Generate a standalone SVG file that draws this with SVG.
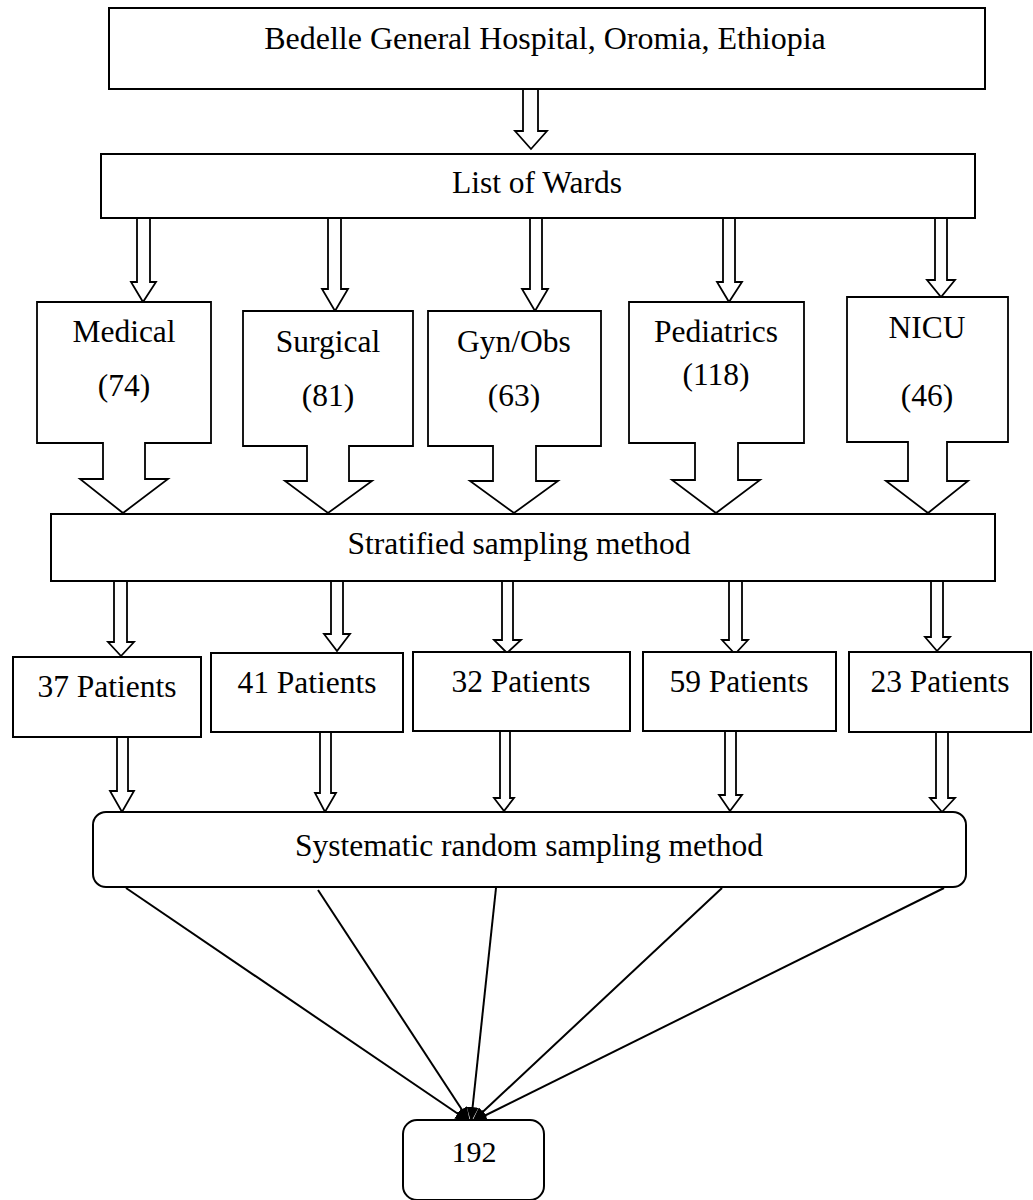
<svg xmlns="http://www.w3.org/2000/svg" width="1033" height="1200" viewBox="0 0 1033 1200">
<style>
  .box { fill: #fff; stroke: #000; stroke-width: 2; }
  .blk { fill: #fff; stroke: #000; stroke-width: 1.8; stroke-linejoin: miter; }
  .t { font-family: "Liberation Serif", "Times New Roman", serif; font-size: 31.5px; fill: #000; text-anchor: middle; }
  .ln { stroke: #000; stroke-width: 2; fill: none; marker-end: url(#ah); }
</style>
<defs>
  <marker id="ah" markerUnits="userSpaceOnUse" markerWidth="16" markerHeight="12" refX="15" refY="6" orient="auto">
    <path d="M0,0 L15,6 L0,12 Z" fill="#000"/>
  </marker>
</defs>
<rect width="1033" height="1200" fill="#fff"/>

<g id="connectors">
  <!-- hospital to list -->
  <polygon class="blk" points="523,89 538,89 538,131 547,131 531,149 515,131 523,131"/>
  <!-- list to wards -->
  <polygon class="blk" points="137,218 150,218 150,282 156,282 143,302 131,282 137,282"/>
  <polygon class="blk" points="328,218 341,218 341,289 348,289 335,311 322,289 328,289"/>
  <polygon class="blk" points="530,218 542,218 542,289 548,289 535,311 522,289 530,289"/>
  <polygon class="blk" points="723,218 735,218 735,282 742,282 729,302 717,282 723,282"/>
  <polygon class="blk" points="935,218 947,218 947,280 955,280 941,297 927,280 935,280"/>
  <!-- stratified to patients -->
  <polygon class="blk" points="114,581 127,581 127,642 134,642 121,656 108,642 114,642"/>
  <polygon class="blk" points="331,581 343,581 343,634 350,634 337,651 324,634 331,634"/>
  <polygon class="blk" points="502,581 513,581 513,640 521,640 507,653 494,640 502,640"/>
  <polygon class="blk" points="729,581 742,581 742,640 748,640 735,654 722,640 729,640"/>
  <polygon class="blk" points="931,581 943,581 943,637 950,637 937,651 925,637 931,637"/>
  <!-- patients to systematic -->
  <polygon class="blk" points="117,737 128,737 128,791 134,791 122,812 110,791 117,791"/>
  <polygon class="blk" points="320,732 331,732 331,793 336,793 325,812 315,793 320,793"/>
  <polygon class="blk" points="500,731 510,731 510,798 514,798 504,811 494,798 500,798"/>
  <polygon class="blk" points="725,731 736,731 736,795 742,795 730,811 719,795 725,795"/>
  <polygon class="blk" points="936,732 948,732 948,798 955,798 942,812 930,798 936,798"/>
  <!-- systematic to 192 -->
  <line class="ln" x1="126" y1="888" x2="470" y2="1122"/>
  <line class="ln" x1="318" y1="890" x2="470" y2="1122"/>
  <line class="ln" x1="496" y1="888" x2="471" y2="1122"/>
  <line class="ln" x1="722" y1="888" x2="472" y2="1122"/>
  <line class="ln" x1="944" y1="888" x2="472" y2="1122"/>
</g>

<g id="hospital">
  <rect class="box" x="109" y="8" width="876" height="81"/>
  <text class="t" x="545" y="49" style="font-size:32px">Bedelle General Hospital, Oromia, Ethiopia</text>
</g>

<g id="wards-list">
  <rect class="box" x="101" y="154" width="874" height="64"/>
  <text class="t" x="537" y="193">List of Wards</text>
</g>

<g id="medical">
  <polygon class="blk" points="37,302 211,302 211,443 145,443 145,479 168,479 123,513 80,479 103,479 103,443 37,443"/>
  <text class="t" x="124" y="342">Medical</text>
  <text class="t" x="124" y="396">(74)</text>
</g>

<g id="surgical">
  <polygon class="blk" points="243,311 413,311 413,446 349,446 349,481 372,481 328,513 285,481 307,481 307,446 243,446"/>
  <text class="t" x="328" y="352">Surgical</text>
  <text class="t" x="328" y="406">(81)</text>
</g>

<g id="gynobs">
  <polygon class="blk" points="428,311 601,311 601,446 536,446 536,481 558,481 514,513 470,481 493,481 493,446 428,446"/>
  <text class="t" x="514" y="352">Gyn/Obs</text>
  <text class="t" x="514" y="406">(63)</text>
</g>

<g id="pediatrics">
  <polygon class="blk" points="629,302 804,302 804,443 738,443 738,480 760,480 716,513 672,480 695,480 695,443 629,443"/>
  <text class="t" x="716" y="342">Pediatrics</text>
  <text class="t" x="716" y="385">(118)</text>
</g>

<g id="nicu">
  <polygon class="blk" points="847,297 1008,297 1008,442 947,442 947,481 968,481 928,513 886,481 908,481 908,442 847,442"/>
  <text class="t" x="927" y="338">NICU</text>
  <text class="t" x="927" y="406">(46)</text>
</g>

<g id="stratified">
  <rect class="box" x="51" y="514" width="944" height="67"/>
  <text class="t" x="519" y="554">Stratified sampling method</text>
</g>

<g id="p37">
  <rect class="box" x="13" y="657" width="188" height="80"/>
  <text class="t" x="107" y="697">37 Patients</text>
</g>
<g id="p41">
  <rect class="box" x="211" y="653" width="192" height="79"/>
  <text class="t" x="307" y="693">41 Patients</text>
</g>
<g id="p32">
  <rect class="box" x="413" y="652" width="217" height="79"/>
  <text class="t" x="521" y="692">32 Patients</text>
</g>
<g id="p59">
  <rect class="box" x="643" y="652" width="193" height="79"/>
  <text class="t" x="739" y="692">59 Patients</text>
</g>
<g id="p23">
  <rect class="box" x="849" y="652" width="182" height="80"/>
  <text class="t" x="940" y="692">23 Patients</text>
</g>

<g id="systematic">
  <rect class="box" x="93" y="812" width="873" height="75" rx="13" ry="13"/>
  <text class="t" x="529" y="856">Systematic random sampling method</text>
</g>

<g id="total">
  <rect class="box" x="403" y="1120" width="141" height="80" rx="14" ry="14"/>
  <text class="t" x="474" y="1162" style="font-size:30px">192</text>
</g>
</svg>
